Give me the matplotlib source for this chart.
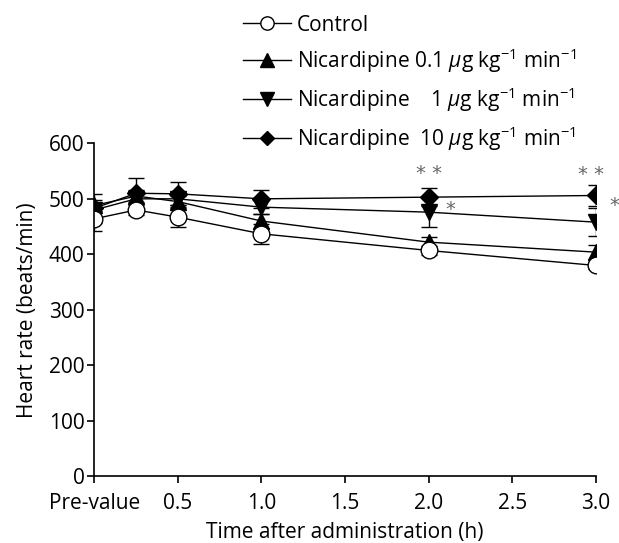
import numpy as np
import matplotlib
matplotlib.use("Agg")
import matplotlib.pyplot as plt

plt.rcParams['font.family'] = ['Open Sans', 'DejaVu Sans']
plt.rcParams['mathtext.fontset'] = 'custom'
plt.rcParams['mathtext.rm'] = 'Open Sans'
plt.rcParams['mathtext.it'] = 'Open Sans:italic'

# Datos
t = [0.0, 0.25, 0.5, 1.0, 2.0, 3.0]
control = [464, 480, 467, 437, 407, 380]
control_err = [22, 10, 17, 18, 8, 6]
nic01 = [488, 505, 495, 460, 422, 404]
nic01_err = [10, 10, 10, 12, 10, 12]
nic1 = [480, 500, 500, 485, 476, 458]
nic1_err = [12, 12, 12, 12, 27, 25]
nic10 = [483, 510, 509, 500, 503, 506]
nic10_err = [26, 28, 21, 16, 16, 19]

xticks = [0, 0.5, 1.0, 1.5, 2.0, 2.5, 3.0]
xticklabels = ['Pre-value', '0.5', '1.0', '1.5', '2.0', '2.5', '3.0']

etiquetas = ['Control',
             r'Nicardipine 0.1 $\mu$g kg$^{-1}$ min$^{-1}$',
             r'Nicardipine    1 $\mu$g kg$^{-1}$ min$^{-1}$',
             r'Nicardipine  10 $\mu$g kg$^{-1}$ min$^{-1}$']

# asteriscos de significancia (x, y, texto)
sig_x = [2.0, 2.13, 2.97, 3.11]
sig_y = [546, 480, 543, 488]
sig_txt = ['* *', '*', '* *', '*']

fig = plt.figure(figsize=(6.19, 5.43), dpi=100)
ax = fig.add_axes([0.1524, 0.1225, 0.81, 0.6136])

estilo = dict(color='black', lw=1.0, capsize=6, elinewidth=1.0, capthick=1.0,
              mec='black', mew=1.0)

h10 = ax.errorbar(t, nic10, yerr=nic10_err, marker='D', ms=9, mfc='black', **estilo)
h1 = ax.errorbar(t, nic1, yerr=nic1_err, marker='v', ms=12, mfc='black', **estilo)
h01 = ax.errorbar(t, nic01, yerr=nic01_err, marker='^', ms=12, mfc='black', **estilo)
hc = ax.errorbar(t, control, yerr=control_err, marker='o', ms=12, mfc='white', **estilo)

for x, y, s in zip(sig_x, sig_y, sig_txt):
    ax.text(x, y, s, ha='center', va='center', fontsize=14, color='#666666',
            family='DejaVu Sans', clip_on=False)

ax.set_xlim(0, 3.0)
ax.set_ylim(0, 600)
ax.set_xticks(xticks)
ax.set_xticklabels(xticklabels)
ax.set_yticks([0, 100, 200, 300, 400, 500, 600])
ax.spines['top'].set_visible(False)
ax.spines['right'].set_visible(False)
ax.spines['left'].set_linewidth(1.2)
ax.spines['bottom'].set_linewidth(1.2)
ax.tick_params(direction='out', length=5, width=1.2, labelsize=15)
ax.tick_params(axis='y', pad=2)
ax.tick_params(axis='x', pad=7)
ax.set_xlabel('Time after administration (h)', fontsize=15, labelpad=6)
ax.set_ylabel('Heart rate (beats/min)', fontsize=15, labelpad=8)

handles = [hc[0], h01[0], h1[0], h10[0]]
fig.legend(handles, etiquetas, loc='upper left', bbox_to_anchor=(0.369, 1.0),
           frameon=False, fontsize=15, handlelength=2.3, handletextpad=0.3,
           labelspacing=0.5, borderpad=0.2, markerscale=0.8)

fig.savefig('out.png', dpi=100)
